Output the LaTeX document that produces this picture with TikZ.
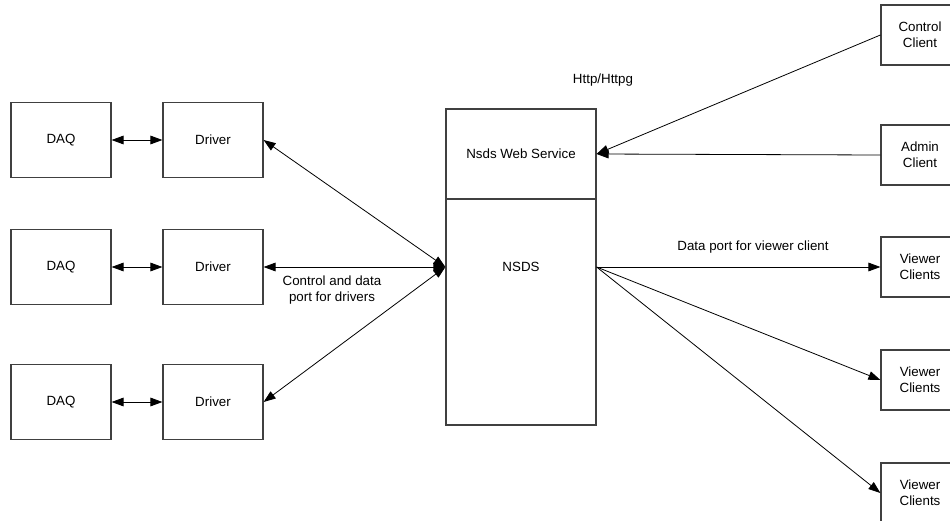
\documentclass[tikz,border=0pt]{standalone}
\usepackage{fontspec}
\setmainfont{Liberation Sans}
\usetikzlibrary{arrows.meta}

\tikzset{every picture/.style={line width=0.75pt}}
\tikzset{
  box/.style={draw={rgb,255:red,64;green,64;blue,64}, line width=0.9pt, minimum width=75pt, minimum height=56.25pt, inner sep=0pt, font=\fontsize{10}{12}\selectfont, align=center},
  client/.style={box, minimum width=58.5pt, minimum height=45pt},
  link/.style={draw=black, line width=0.6pt, {Triangle[length=9pt,width=6.5pt]}-{Triangle[length=9pt,width=6.5pt]}},
  toarrow/.style={draw=black, line width=0.6pt, -{Triangle[length=9pt,width=6.5pt]}},
  lbl/.style={font=\fontsize{10}{12}\selectfont, align=center}
}

\begin{document}
\begin{tikzpicture}[x=0.75pt,y=0.75pt,yscale=-1,xscale=1]
\path[use as bounding box] (0,0) rectangle (950,521);
\clip (0,0) rectangle (950,521);

% Text Node
\node[box] (daqA) at (61,140) {DAQ};
% Text Node
\node[box] (daqB) at (61,267) {DAQ};
% Text Node
\node[box] (daqC) at (61,402) {DAQ};
% Text Node
\node[box] (drvA) at (213,140) {Driver};
% Text Node
\node[box] (drvB) at (213,267) {Driver};
% Text Node
\node[box] (drvC) at (213,402) {Driver};

% Text Node
\node[box, minimum width=112.5pt, minimum height=67.5pt] (web) at (521,154) {Nsds Web Service};
% Text Node
\node[box, minimum width=112.5pt, minimum height=169.5pt] (nsds) at (521,312) {};
\node[lbl] (nsdslbl) at (521,267) {NSDS};
\coordinate (nsdsin) at (nsds.west |- nsdslbl);
\coordinate (nsdsout) at (nsds.east |- nsdslbl);

% Text Node
\node[client] (ctrl) at (920,35) {Control\\Client};
% Text Node
\node[client] (admin) at (920,155) {Admin\\Client};
% Text Node
\node[client] (viewA) at (920,267) {Viewer\\Clients};
% Text Node
\node[client] (viewB) at (920,380) {Viewer\\Clients};
% Text Node
\node[client] (viewC) at (920,493) {Viewer\\Clients};

%Straight Lines
\draw[link] (daqA.east) -- (drvA.west);
\draw[link] (daqB.east) -- (drvB.west);
\draw[link] (daqC.east) -- (drvC.west);

%Straight Lines
\draw[link] (drvA.east) -- (nsdsin);
\draw[link] (drvB.east) -- (nsdsin);
\draw[link] (drvC.east) -- (nsdsin);

%Straight Lines
\draw[toarrow] (ctrl.west) -- (web.east);
\draw[toarrow] (admin.west) -- (web.east);

%Straight Lines
\draw[toarrow] (nsdsout) -- (viewA.west);
\draw[toarrow] (nsdsout) -- (viewB.west);
\draw[toarrow] (nsdsout) -- (viewC.west);

% Text Node
\node[lbl] (http) at (603,80) {Http/Httpg};
% Text Node
\node[lbl] (drvport) at (332,290) {Control and data\\port for drivers};
% Text Node
\node[lbl] (viewport) at (753,247) {Data port for viewer client};

\end{tikzpicture}
\end{document}
